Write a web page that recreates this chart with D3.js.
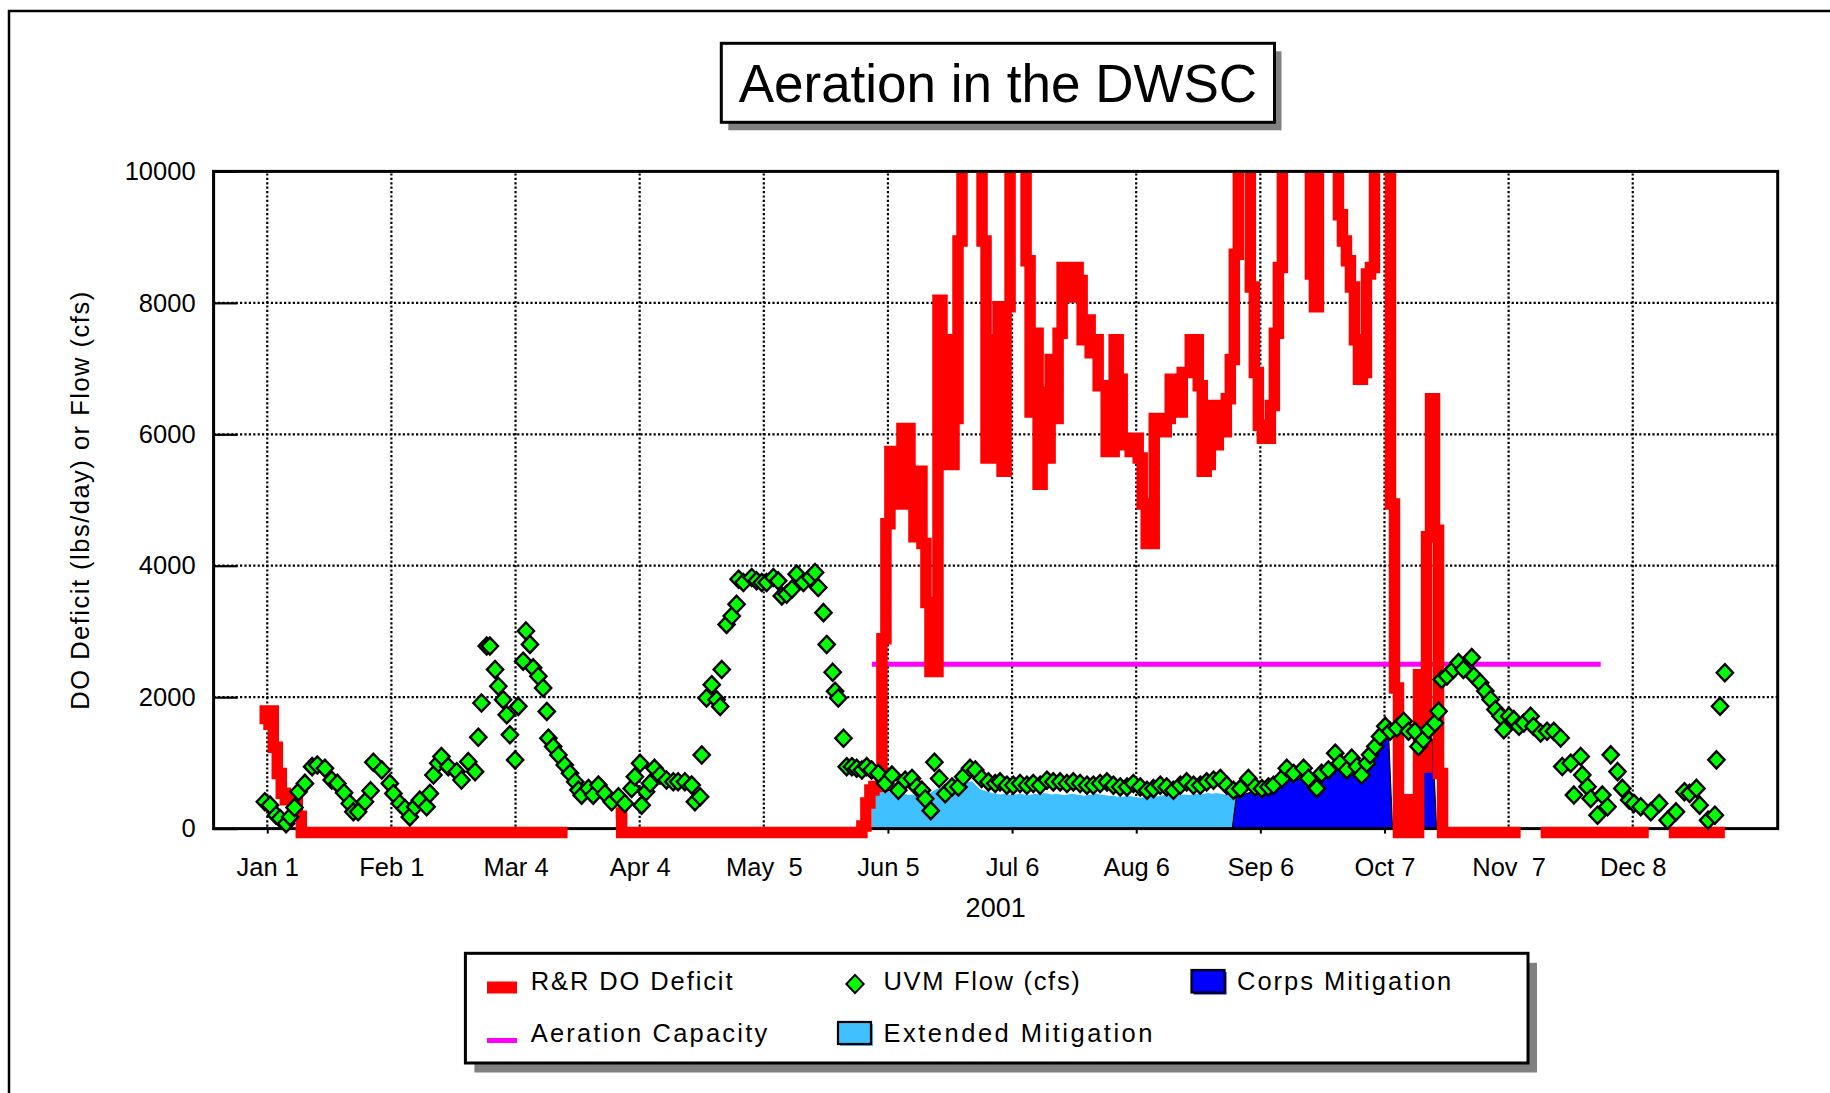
<!DOCTYPE html>
<html>
<head>
<meta charset="utf-8">
<script src="https://cdn.jsdelivr.net/npm/d3@7"></script>
<style>
html, body { margin: 0; padding: 0; background: #fff; }
svg { display: block; font-family: "Liberation Sans", Arial, Helvetica, sans-serif; }
</style>
</head>
<body>
<svg id="chart" width="1830" height="1093"></svg>
<script>
// ---------------- DATA ----------------
const chartTitle = "Aeration in the DWSC";
const yAxisTitle = "DO Deficit (lbs/day) or Flow (cfs)";
const xAxisTitle = "2001";

// x ticks: day-of-year (Jan 1 = 0)
const tickDays = [0, 31, 62, 93, 124, 155, 186, 217, 248, 279, 310, 341];
const tickLabels = ["Jan 1", "Feb 1", "Mar 4", "Apr 4", "May  5", "Jun 5", "Jul 6", "Aug 6", "Sep 6", "Oct 7", "Nov  7", "Dec 8"];
const yTicks = [0, 2000, 4000, 6000, 8000, 10000];
const yGrid = [2000, 4000, 6000, 8000];

// R&R DO Deficit (lbs/day), one value per day starting at day -1; null = no data; 12000 = off scale
const deficitStartDay = -1;
const deficit = [
  1650, 1850, 1850, 1300, 900, 600, 500, 500, 500, 250,           // -1..8
  0,0,0,0,0,0,0,0,0,0, 0,0,0,0,0,0,0,0,0,0, 0,0,0,0,0,0,0,0,0,0,  // 9..38
  0,0,0,0,0,0,0,0,0,0, 0,0,0,0,0,0,0,0,0,0, 0,0,0,0,0,0,0,0,0,0,  // 39..68
  0,0,0,0,0,0,0,                                                  // 69..75
  null,null,null,null,null,null,null,null,null,null,null,         // 76..86
  300, 300,                                                       // 87..88
  0,0,0,0,0,0,0,0,0,0, 0,0,0,0,0,0,0,0,0,0, 0,0,0,0,0,0,0,0,0,0,  // 89..118
  0,0,0,0,0,0,0,0,0,0, 0,0,0,0,0,0,0,0,0,0, 0,0,0,0,0,0,0,0,0,0,  // 119..148
  100, 450, 650, 700, 700,                                        // 149..153
  2950, 4700, 5800, 5300, 5000, 6150, 6150, 5000, 4500, 5500, 4400, 3500, 2450, 2450, // 154..167
  8100, 5600, 7500, 5600, 6300, 9000, 12000, 12000, 12000, 12000, // 168..177
  12000, 9000, 5700, 7500, 5700, 8000, 5500, 8000, 12000, 12000,  // 178..187
  12000, 12000, 8700, 6400, 7600, 5300, 6700, 5700, 7200, 6300,   // 188..197
  7600, 8600, 8600, 8150, 8600, 8400, 7500, 7800, 7300, 7500,     // 198..207
  6800, 6800, 5800, 5800, 7500, 6900, 5900, 6000, 5800, 6000,     // 208..217
  5700, 5000, 4400, 4400, 6300, 6200, 6100, 6300, 6900, 6900,     // 218..227
  6400, 7000, 7000, 7500, 7500, 6800, 5500, 5600, 6500, 5900,     // 228..237
  6500, 6100, 6600, 7200, 8800,                                   // 238..242
  12000, 12000, 12000, 8300, 7000, 6200, 6000, 6000, 6500, 7600, 8600, // 243..253
  12000, 12000, 12000, 12000, 12000, 12000, 12000, 8500, 8000,    // 254..262
  12000, 12000, 12000, 12000, 12000,                              // 263..267
  9400, 9000, 8700, 8300, 7500, 6900, 7000, 8500, 8600,           // 268..276
  12000, 12000, 12000, 12000,                                     // 277..280
  5000, 2200, 0, 0, 500, 500, 0, 2400, 1000, 4500, 6600, 4600, 900, 0, // 281..294
  0,0,0,0,0,0,0,0,0,0, 0,0,0,0,0,0,0,0,0,                        // 295..313
  null,null,null,null,                                            // 314..317
  0,0,0,0,0,0,0,0,0,0, 0,0,0,0,0,0,0,0,0,0, 0,0,0,0,0,0,0,0,      // 318..345
  null,null,null,null,                                            // 346..349
  0,0,0,0,0,0,0,0,0,0, 0,0,0,0,0                                  // 350..364
];

// UVM Flow (cfs): day, value
const flowDay = [
  -0.6,0.7,2.2,3.2,4.7,5.7,6.8,7.8,9.4,11.2,12.5,14.4,16.1,17.5,19.2,20.6,21.5,22.7,24.4,25.8,
  26.5,28.6,30.6,31.5,33.1,34.4,35.6,36.9,38.1,39.8,40.6,41.5,42.7,43.5,45.2,47.3,48.5,50.2,51.9,52.7,
  53.5,54.8,55.6,56.9,57.7,58.9,59.8,60.6,61.9,62.7,63.9,64.6,65.6,66.4,67.7,68.9,69.8,70.2,71.4,72.7,
  74.3,75.6,76.9,77.7,78.5,80.2,81.4,82.7,84.3,86.0,87.7,89.3,91.0,91.8,93.1,93.5,94.6,95.6,96.7,98.1,
  99.7,101.4,102.6,104.3,106.0,106.8,108.1,108.5,109.7,111.0,112.2,113.1,113.5,114.7,116.0,117.2,117.7,118.9,121.0,122.2,
  123.5,124.7,126.4,127.6,128.5,129.7,131.0,132.2,133.9,135.6,136.8,137.6,138.9,139.7,141.2,141.8,142.6,143.9,144.7,146.0,
  147.2,148.5,149.7,150.9,152.6,154.3,156.0,157.6,159.3,161.0,162.2,163.5,164.3,165.7,166.6,167.8,169.3,171.0,172.6,173.8,
  175.5,176.8,178.4,180.1,181.8,183.0,184.7,186.3,188.0,189.7,191.3,193.0,194.7,196.3,198.0,199.7,201.3,203.0,204.7,206.3,
  208.0,209.7,211.3,213.0,214.7,216.3,218.0,219.7,221.3,223.0,224.6,226.3,228.0,229.6,231.3,233.0,234.6,236.3,238.0,239.6,
  241.3,243.0,245.0,246.7,248.4,250.0,251.3,253.4,254.6,256.3,258.8,260.0,262.1,263.3,265.0,266.7,267.9,269.6,270.8,272.1,
  273.3,274.6,275.4,276.7,277.9,279.2,280.4,282.1,283.8,285.0,286.6,287.5,288.7,290.0,291.6,292.5,293.3,294.6,296.2,297.5,
  298.7,300.8,301.3,302.9,304.2,305.5,306.7,308.0,308.8,310.1,311.3,312.6,313.8,315.5,316.2,318.0,319.6,321.3,323.0,323.4,
  325.5,326.3,328.0,328.4,329.7,330.5,332.2,333.4,334.7,335.5,337.2,338.4,340.1,341.3,343.0,345.5,347.6,349.7,351.8,353.9,
  355.2,356.9,357.7,359.8,361.5,361.9,362.8,364.0
];
const flowCfs = [
  408,357,204,153,76,178,321,560,688,943,968,917,739,688,545,382,255,255,408,576,
  1009,892,688,535,382,306,178,331,433,331,535,815,994,1096,943,866,739,1019,866,1391,
  1911,2777,2777,2420,2166,1962,1732,1427,1045,1860,2548,3006,2803,2446,2318,2140,1783,1376,1248,1121,
  968,841,713,586,509,611,509,662,535,408,484,382,611,790,993,357,560,688,917,815,
  739,713,713,713,662,408,484,1121,1987,2190,1961,1859,2420,3107,3235,3413,3795,3744,3821,3770,
  3744,3744,3821,3770,3541,3566,3642,3872,3744,3821,3897,3668,3286,2802,2379,2089,1987,1375,942,942,
  917,891,943,892,840,686,814,582,737,763,634,582,454,273,1010,763,531,634,634,789,
  918,892,763,711,686,711,660,660,686,660,686,660,737,711,711,686,711,686,660,660,
  686,711,660,634,634,686,634,582,608,660,634,582,660,711,660,660,711,737,763,660,
  582,608,763,634,608,634,660,763,918,840,918,765,612,842,893,1148,995,893,1071,944,
  816,995,1122,1250,1403,1556,1480,1531,1633,1480,1480,1250,1352,1505,1607,1786,2270,2321,2423,2526,
  2423,2602,2321,2219,2092,1964,1811,1709,1505,1709,1658,1556,1607,1709,1556,1454,1480,1480,1378,944,
  995,510,1097,816,638,459,204,510,332,1122,867,612,434,383,332,255,383,128,255,561,
  536,612,357,128,204,1046,1862,2372
];

// Extended Mitigation, daily from day 151
const extendedStartDay = 151;
const extendedMitigation = [
  560,580,570,540,560,550,520,540,530,510,
  520,500,510,500,520,560,600,610,580,600,
  640,650,660,690,710,720,660,600,580,560,
  540,530,520,530,520,510,520,530,520,510,
  520,530,520,540,530,520,530,520,510,520,
  530,520,510,500,510,520,530,520,510,500,
  500,490,480,490,500,490,480,470,480,490,
  500,490,500,510,500,490,500,510,520,510,
  520,530,520,530,540,530,540,530,520,530,
  540,540
];

// Corps Mitigation, daily from day 230
const corpsStartDay = 230;
const corpsMitigation = [
  0,0,0,0,0,0,0,0,0,0,0,0,
  480,500,520,540,560,570,590,610,640,670,
  700,720,740,760,770,760,750,740,730,750,
  780,810,840,860,880,890,890,890,900,920,
  960,1010,1080,1150,1230,1300,1360,1420,1450,
  0,0,0,0,0,0,0,0,
  1300,1350,1350,0
];

// Aeration Capacity
const capacityDays = [151, 333];
const capacity = [2500, 2500];

const colors = {
  deficit: "#ff0000", flow: "#00ff00", corps: "#0000ff",
  extended: "#40c0ff", capacity: "#ff00ff"
};

// ---------------- LAYOUT ----------------
const W = 1830, H = 1093;
const plot = { left: 213.6, right: 1777.7, top: 171.4, bottom: 828.6 };
const svg = d3.select("#chart");

const x = d3.scaleLinear().domain([-13.4, 377.2]).range([plot.left, plot.right]);
const y = d3.scaleLinear().domain([0, 10000]).range([plot.bottom, plot.top]);

// outer frame
svg.append("rect").attr("x", 9).attr("y", 11).attr("width", W).attr("height", H)
  .attr("fill", "none").attr("stroke", "#000").attr("stroke-width", 2.5);

// title box
svg.append("rect").attr("x", 728.3).attr("y", 51.3).attr("width", 553.2).attr("height", 79).attr("fill", "#808080");
svg.append("rect").attr("x", 721.3).attr("y", 43.3).attr("width", 553.2).attr("height", 79)
  .attr("fill", "#fff").attr("stroke", "#000").attr("stroke-width", 3);
svg.append("text").attr("x", 997.9).attr("y", 101.5).attr("text-anchor", "middle")
  .attr("font-size", 53).attr("fill", "#000").text(chartTitle);

// grid
const grid = svg.append("g").attr("stroke", "#000").attr("stroke-width", 2.2).attr("stroke-dasharray", "2.2,2.2");
grid.selectAll("line.v").data(tickDays).join("line").attr("class", "v")
  .attr("x1", d => x(d)).attr("x2", d => x(d)).attr("y1", plot.top + 2).attr("y2", plot.bottom);
grid.selectAll("line.h").data(yGrid).join("line").attr("class", "h")
  .attr("x1", plot.left).attr("x2", plot.right).attr("y1", d => y(d)).attr("y2", d => y(d));

// areas
const extData = extendedMitigation.map((v, i) => ({ day: extendedStartDay + i, v }));
const corpsData = corpsMitigation.map((v, i) => ({ day: corpsStartDay + i, v }));
const area = d3.area().x(d => x(d.day)).y0(y(0)).y1(d => y(d.v));
svg.append("path").datum(extData).attr("d", area).attr("fill", colors.extended);
svg.append("path").datum(corpsData).attr("d", area).attr("fill", colors.corps)
  .attr("stroke", "#000").attr("stroke-width", 1.2);

// y axis (labels + inward ticks)
const yAxis = svg.append("g").attr("transform", `translate(${plot.left},0)`)
  .call(d3.axisLeft(y).tickValues(yTicks).tickSizeInner(-24).tickSizeOuter(0).tickPadding(18).tickFormat(d3.format("d")));
yAxis.select(".domain").remove();
yAxis.selectAll("line").attr("stroke", "#000").attr("stroke-width", 2.2);
yAxis.selectAll("text").attr("font-size", 25.5).attr("fill", "#000")
  .attr("font-family", "\"Liberation Sans\", Arial, sans-serif");

// x axis
const xAxis = svg.append("g").attr("transform", `translate(0,${plot.bottom})`)
  .call(d3.axisBottom(x).tickValues(tickDays).tickFormat((d, i) => tickLabels[i])
    .tickSizeInner(5).tickSizeOuter(0).tickPadding(24));
xAxis.select(".domain").remove();
xAxis.selectAll("line").attr("stroke", "#000").attr("stroke-width", 2);
xAxis.selectAll("text").attr("font-size", 25.5).attr("fill", "#000").style("white-space", "pre")
  .attr("font-family", "\"Liberation Sans\", Arial, sans-serif");

// plot frame
svg.append("rect").attr("x", plot.left).attr("y", plot.top)
  .attr("width", plot.right - plot.left).attr("height", plot.bottom - plot.top)
  .attr("fill", "none").attr("stroke", "#000").attr("stroke-width", 3);

// axis titles
svg.append("text").attr("transform", "translate(89,500) rotate(-90)").attr("text-anchor", "middle")
  .attr("font-size", 25.5).attr("letter-spacing", "1.5px").attr("fill", "#000").text(yAxisTitle);
svg.append("text").attr("x", (plot.left + plot.right) / 2).attr("y", 916.5).attr("text-anchor", "middle")
  .attr("font-size", 27).attr("fill", "#000").text(xAxisTitle);

// aeration capacity
const capData = capacityDays.map((d, i) => ({ day: d, v: capacity[i] }));
svg.append("path").datum(capData)
  .attr("d", d3.line().x(d => x(d.day)).y(d => y(d.v)))
  .attr("fill", "none").attr("stroke", colors.capacity).attr("stroke-width", 5);

// R&R DO deficit (clipped at top of plot)
svg.append("clipPath").attr("id", "plotClip").append("rect")
  .attr("x", plot.left + 1.5).attr("y", plot.top + 1.5)
  .attr("width", plot.right - plot.left - 3).attr("height", plot.bottom - plot.top + 30);
const defData = deficit.map((v, i) => ({ day: deficitStartDay + i, v }));
const defLine = d3.line().defined(d => d.v !== null).x(d => x(d.day)).y(d => y(d.v)).curve(d3.curveStep);
svg.append("g").attr("clip-path", "url(#plotClip)")
  .append("path").datum(defData).attr("d", defLine)
  .attr("transform", "translate(0,4)")
  .attr("fill", "none").attr("stroke", colors.deficit).attr("stroke-width", 11.5)
  .attr("stroke-linejoin", "miter").attr("stroke-linecap", "butt");

// diamonds
const diamondType = {
  draw(ctx, size) {
    const h = Math.sqrt(size / 2);
    ctx.moveTo(0, -h * 1.05); ctx.lineTo(h, 0); ctx.lineTo(0, h * 1.05); ctx.lineTo(-h, 0); ctx.closePath();
  }
};
const flowData = flowDay.map((d, i) => ({ day: d, v: flowCfs[i] }));
svg.append("g").selectAll("path").data(flowData).join("path")
  .attr("transform", d => `translate(${x(d.day)},${y(d.v)})`)
  .attr("d", d3.symbol().type(diamondType).size(132))
  .attr("fill", colors.flow).attr("stroke", "#000").attr("stroke-width", 2.4)
  .attr("stroke-linejoin", "miter");

// ---------------- LEGEND ----------------
const lg = svg.append("g");
lg.append("rect").attr("x", 474.4).attr("y", 962.8).attr("width", 1062.6).attr("height", 109.7).attr("fill", "#808080");
lg.append("rect").attr("x", 465.4).attr("y", 953.3).attr("width", 1062.6).attr("height", 109.7)
  .attr("fill", "#fff").attr("stroke", "#000").attr("stroke-width", 3);

const legendText = (tx, ty, label, ls) => lg.append("text").attr("x", tx).attr("y", ty)
  .attr("font-size", 25.5).attr("letter-spacing", ls + "px").attr("fill", "#000").text(label);

// R&R DO Deficit
lg.append("rect").attr("x", 487).attr("y", 981.5).attr("width", 30).attr("height", 12).attr("fill", colors.deficit);
legendText(530.7, 990, "R&R DO Deficit", 1.9);
// UVM Flow
lg.append("path").attr("transform", "translate(855,984)")
  .attr("d", d3.symbol().type(diamondType).size(150))
  .attr("fill", colors.flow).attr("stroke", "#000").attr("stroke-width", 2);
legendText(883.5, 990, "UVM Flow (cfs)", 1.7);
// Corps Mitigation
lg.append("rect").attr("x", 1193.5).attr("y", 972).attr("width", 33).attr("height", 22.5).attr("fill", colors.corps);
lg.append("rect").attr("x", 1191.5).attr("y", 970).attr("width", 33).attr("height", 22.5)
  .attr("fill", colors.corps).attr("stroke", "#000").attr("stroke-width", 2.2);
legendText(1237, 990, "Corps Mitigation", 2.0);
// Aeration Capacity
lg.append("rect").attr("x", 487).attr("y", 1038).attr("width", 30).attr("height", 5).attr("fill", colors.capacity);
legendText(530.7, 1041.7, "Aeration Capacity", 2.2);
// Extended Mitigation
lg.append("rect").attr("x", 840).attr("y", 1024).attr("width", 33).attr("height", 22).attr("fill", colors.extended);
lg.append("rect").attr("x", 838).attr("y", 1022).attr("width", 33).attr("height", 22)
  .attr("fill", colors.extended).attr("stroke", "#000").attr("stroke-width", 2.2);
legendText(883.5, 1041.7, "Extended Mitigation", 2.5);
</script>
</body>
</html>
